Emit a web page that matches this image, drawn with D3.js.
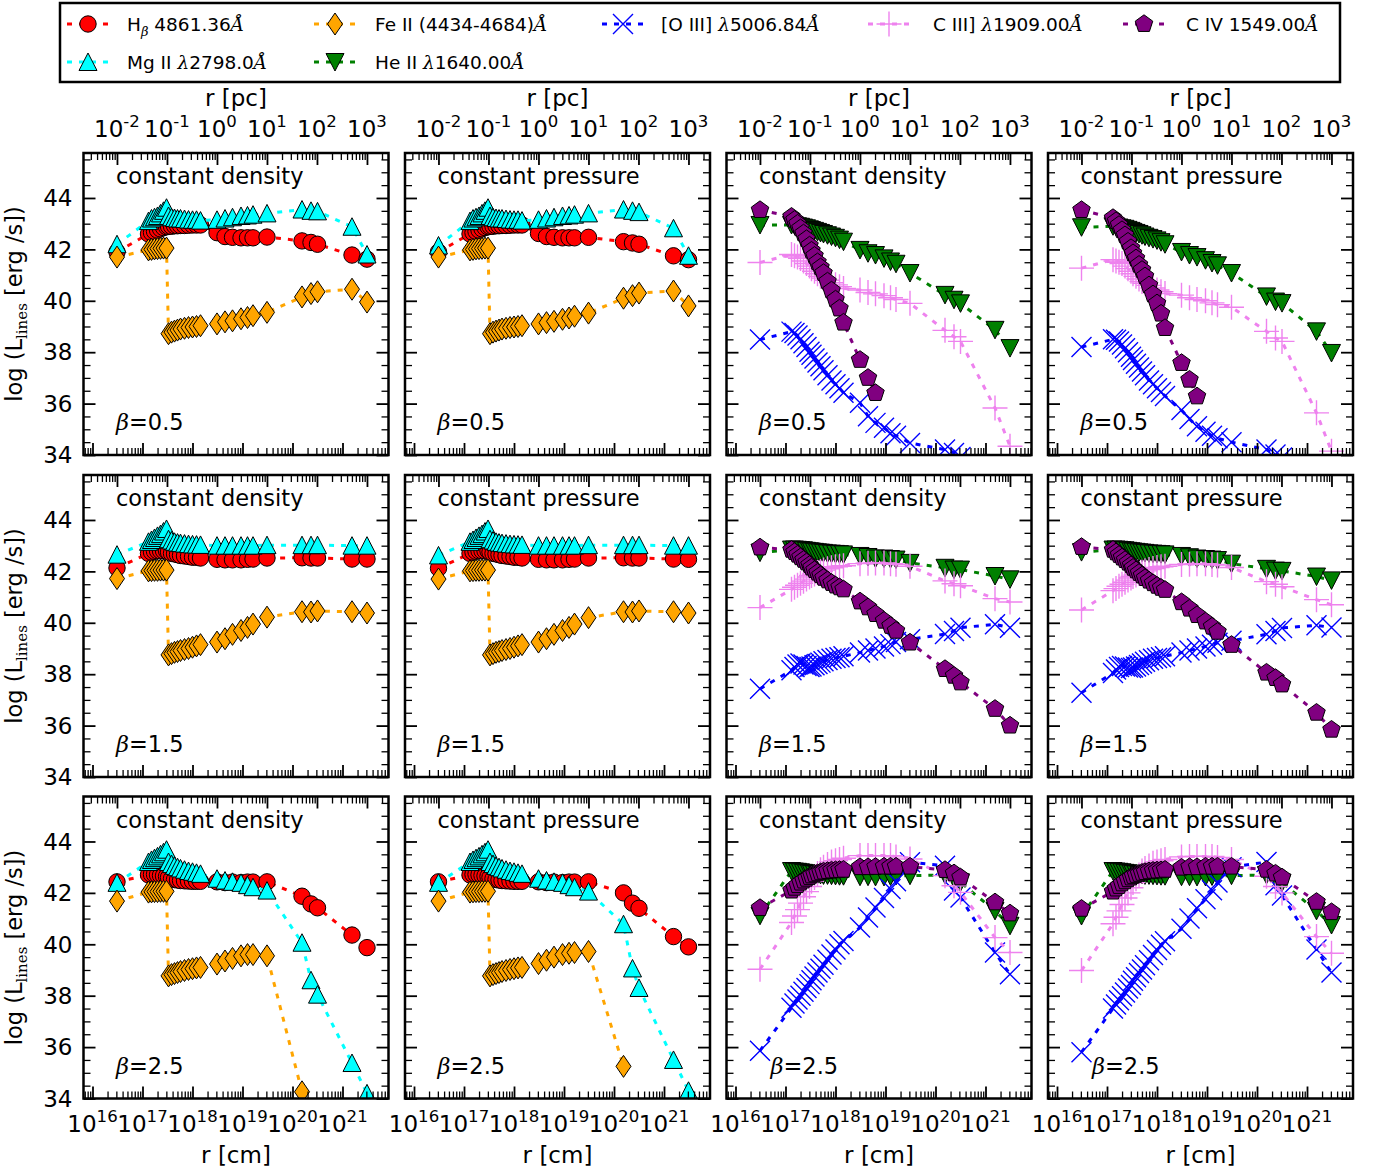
<!DOCTYPE html>
<html><head><meta charset="utf-8">
<script src="https://cdn.jsdelivr.net/npm/d3@7"></script>
<style>body{margin:0;background:#fff} text{font-family:"DejaVu Sans",sans-serif;fill:#000}</style>
</head><body><svg id="c" width="1376" height="1174"></svg>
<script>
// ---- radius grid, log10(r / cm) ----
const logR = [16.49, 17.12,17.18,17.24,17.30,17.36,17.42,17.48,17.52,17.58,17.64,17.70,17.76,17.84,17.92,18.00,18.08,18.16, 18.49,18.65,18.80,18.97,19.10,19.21,19.49, 20.19,20.37,20.50, 21.19,21.49];

// ---- tick labels ----
const cmTicks = [16,17,18,19,20,21];
const pcTicks = [-2,-1,0,1,2,3];
const yTicks = [34,36,38,40,42,44];
const betas = ["0.5","1.5","2.5"];
const titles = ["constant density","constant pressure","constant density","constant pressure"];

// ---- left panels: Hbeta, Mg II, Fe II ----
const hb_d05 = [41.9, 42.6,42.65,42.7,42.75,42.8,42.85,42.88, 42.9,42.9,42.92,42.92,42.93,42.93,42.94,42.95,42.95,42.95, 42.65,42.5,42.47,42.45,42.45,42.45,42.48, 42.33,42.27,42.2, 41.78,41.62];
const mg_d05 = [42.2, 43.1,43.2,43.25,43.3,43.4,43.5,43.62, 43.3,43.25,43.22,43.2,43.2,43.18,43.16,43.15,43.15,43.12, 43.15,43.2,43.25,43.3,43.32,43.35,43.4, 43.55,43.5,43.48, 42.88,41.8];
const fe_d05 = [41.7, 41.98,42.0,42.02,42.03,42.04,42.05,42.05, 38.72,38.78,38.82,38.86,38.9,38.93,38.96,38.98,39.0,39.03, 39.1,39.18,39.22,39.3,39.35,39.42,39.55, 40.15,40.28,40.35, 40.45,39.95];
const hb_p05 = [41.9, 42.6,42.65,42.7,42.75,42.8,42.85,42.88, 42.9,42.9,42.92,42.92,42.93,42.93,42.94,42.95,42.95,42.95, 42.62,42.5,42.47,42.45,42.45,42.45,42.47, 42.3,42.25,42.2, 41.75,41.6];
const mg_p05 = [42.15, 43.1,43.2,43.25,43.3,43.4,43.5,43.62, 43.3,43.25,43.22,43.2,43.2,43.18,43.16,43.15,43.15,43.12, 43.15,43.2,43.25,43.3,43.32,43.35,43.4, 43.55,43.5,43.45, 42.82,41.75];
const fe_p05 = [41.7, 41.98,42.0,42.02,42.03,42.04,42.05,42.05, 38.72,38.78,38.82,38.86,38.9,38.93,38.96,38.98,39.0,39.03, 39.1,39.15,39.2,39.28,39.33,39.4,39.52, 40.1,40.2,40.3, 40.38,39.8];
const hb_d15 = [42.13, 42.7,42.75,42.78,42.8,42.8,42.8,42.8, 42.75,42.7,42.68,42.65,42.62,42.6,42.58,42.55,42.55,42.52, 42.47,42.45,42.45,42.45,42.47,42.48,42.52, 42.53,42.52,42.52, 42.48,42.48];
const mg_d15 = [42.65, 43.15,43.22,43.3,43.38,43.45,43.55,43.65, 43.25,43.2,43.15,43.12,43.1,43.08,43.06,43.05,43.04,43.03, 43.0,43.0,43.0,43.0,43.0,43.0,43.02, 43.02,43.02,43.02, 43.0,43.0];
const fe_d15 = [41.72, 42.02,42.03,42.04,42.04,42.05,42.05,42.05, 38.75,38.8,38.85,38.88,38.92,38.96,39.0,39.05,39.1,39.15, 39.25,39.38,39.55,39.7,39.82,39.95,40.22, 40.43,40.42,40.46, 40.43,40.38];
const hb_p15 = [42.12, 42.7,42.75,42.78,42.8,42.8,42.8,42.8, 42.75,42.7,42.68,42.65,42.62,42.6,42.58,42.55,42.55,42.52, 42.47,42.45,42.45,42.45,42.47,42.48,42.52, 42.53,42.52,42.52, 42.48,42.47];
const mg_p15 = [42.62, 43.15,43.22,43.3,43.38,43.45,43.55,43.65, 43.25,43.2,43.15,43.12,43.1,43.08,43.06,43.05,43.04,43.03, 43.0,43.0,43.0,43.0,43.0,43.0,43.02, 43.02,43.02,43.02, 43.0,43.0];
const fe_p15 = [41.7, 42.02,42.03,42.04,42.04,42.05,42.05,42.05, 38.75,38.8,38.85,38.88,38.92,38.96,39.0,39.05,39.1,39.15, 39.25,39.38,39.55,39.7,39.82,39.95,40.2, 40.43,40.42,40.46, 40.43,40.38];
const hb_d25 = [42.43, 42.7,42.72,42.72,42.7,42.68,42.66,42.64, 42.6,42.55,42.52,42.5,42.48,42.47,42.46,42.45,42.45,42.45, 42.43,42.4,42.42,42.4,42.42,42.42,42.43, 41.87,41.57,41.42, 40.36,39.87];
const mg_d25 = [42.39, 43.2,43.28,43.35,43.42,43.5,43.58,43.68, 43.2,43.12,43.05,43.0,42.95,42.9,42.85,42.82,42.78,42.74, 42.55,42.48,42.43,42.39,42.3,42.22,42.09, 40.06,38.6,38.04, 35.38,34.2];
const fe_d25 = [41.68, 42.03,42.04,42.05,42.05,42.06,42.06,42.06, 38.77,38.82,38.86,38.9,38.94,38.98,39.02,39.05,39.08,39.1, 39.23,39.35,39.45,39.55,39.6,39.6,39.55, 34.26];
const hb_p25 = [42.43, 42.7,42.72,42.72,42.7,42.68,42.66,42.64, 42.6,42.55,42.52,42.5,42.48,42.47,42.46,42.45,42.45,42.45, 42.43,42.4,42.42,42.4,42.42,42.42,42.43, 42.0,41.6,41.4, 40.3,39.9];
const mg_p25 = [42.39, 43.2,43.28,43.35,43.42,43.5,43.58,43.68, 43.2,43.12,43.05,43.0,42.95,42.9,42.85,42.82,42.78,42.74, 42.55,42.48,42.43,42.39,42.3,42.22,42.05, 40.78,39.06,38.3, 35.5,34.3];
const fe_p25 = [41.68, 42.03,42.04,42.05,42.05,42.06,42.06,42.06, 38.77,38.82,38.86,38.9,38.94,38.98,39.02,39.05,39.08,39.1, 39.25,39.38,39.5,39.6,39.65,39.68,39.72, 35.25];

// ---- right panels: He II, [O III], C III], C IV ----
const he_d05 = [42.95, 42.95,42.93,42.9,42.88,42.85,42.82,42.78,42.75,42.72,42.68,42.64,42.6,42.55,42.5,42.45,42.38,42.3, 41.98,41.85,41.78,41.65,41.53,41.44,41.08, 40.23,40.04,39.9, 38.87,38.16];
const o3_d05 = [38.49, 38.8,38.75,38.65,38.5,38.35,38.2,38.02,37.9,37.75,37.6,37.45,37.3,37.1,36.9,36.75,36.6,36.42, 36.03,35.51,35.25,35.06,34.85,34.75,34.47, 34.21,34.08,33.92];
const c3_d05 = [41.49, 41.8,41.75,41.7,41.65,41.55,41.45,41.35,41.25,41.15,41.05,40.95,40.88,40.8,40.7,40.62,40.55,40.48, 40.42,40.32,40.27,40.2,40.12,40.05,39.9, 38.85,38.6,38.42, 35.83,34.34];
const c4_d05 = [43.53, 43.27,43.15,43.0,42.82,42.62,42.4,42.15,41.95,41.75,41.5,41.3,41.08,40.75,40.4,40.05,39.7,39.15, 37.7,37.0,36.41];
const he_p05 = [42.86, 42.9,42.88,42.85,42.82,42.8,42.76,42.72,42.68,42.64,42.6,42.55,42.5,42.45,42.4,42.35,42.28,42.2, 41.9,41.78,41.7,41.58,41.47,41.38,41.08, 40.17,39.97,39.91, 38.81,37.97];
const o3_p05 = [38.2, 38.5,38.48,38.42,38.3,38.15,38.0,37.82,37.7,37.55,37.4,37.25,37.1,36.9,36.75,36.6,36.45,36.3, 35.75,35.4,35.12,34.9,34.75,34.65,34.5, 34.21,34.02,33.9];
const c3_p05 = [41.27, 41.6,41.55,41.5,41.45,41.35,41.25,41.15,41.05,40.95,40.85,40.75,40.68,40.6,40.5,40.42,40.35,40.28, 40.22,40.12,40.05,40.0,39.92,39.85,39.75, 38.81,38.55,38.42, 35.64,34.15];
const c4_p05 = [43.53, 43.22,43.1,42.95,42.75,42.55,42.3,42.05,41.85,41.65,41.4,41.2,40.95,40.6,40.25,39.9,39.5,38.94, 37.58,36.93,36.28];
const he_d15 = [42.73, 42.85,42.85,42.84,42.83,42.82,42.8,42.78,42.77,42.76,42.74,42.73,42.72,42.7,42.69,42.68,42.67,42.66, 42.6,42.56,42.5,42.5,42.48,42.46,42.33, 42.14,42.07,42.07, 41.82,41.69];
const o3_d15 = [37.43, 38.15,38.28,38.38,38.42,38.38,38.32,38.28,38.3,38.35,38.4,38.45,38.5,38.55,38.6,38.63,38.66,38.7, 38.84,38.92,39.0,39.08,39.17,39.25,39.36, 39.56,39.68,39.81, 39.94,39.81];
const c3_d15 = [40.59, 41.3,41.38,41.46,41.54,41.62,41.7,41.78,41.84,41.9,41.96,42.0,42.05,42.1,42.14,42.18,42.2,42.22, 42.3,42.32,42.33,42.33,42.3,42.28,42.2, 41.63,41.52,41.44, 40.94,40.81];
const c4_d15 = [42.93, 42.84,42.75,42.65,42.55,42.45,42.35,42.25,42.15,42.05,41.95,41.85,41.75,41.65,41.55,41.45,41.38,41.3, 40.83,40.6,40.34,40.08,39.88,39.69,39.23, 38.2,37.94,37.68, 36.65,36.0];
const he_p15 = [42.75, 42.85,42.85,42.84,42.83,42.82,42.8,42.78,42.77,42.76,42.74,42.73,42.72,42.7,42.69,42.68,42.67,42.66, 42.6,42.55,42.5,42.48,42.46,42.44,42.3, 42.1,42.03,42.02, 41.8,41.65];
const o3_p15 = [37.28, 38.05,38.18,38.28,38.32,38.3,38.26,38.24,38.26,38.3,38.36,38.42,38.48,38.54,38.6,38.63,38.66,38.7, 38.84,38.92,39.0,39.08,39.15,39.22,39.3, 39.55,39.68,39.8, 39.9,39.82];
const c3_p15 = [40.5, 41.25,41.33,41.42,41.5,41.58,41.66,41.74,41.8,41.86,41.92,41.97,42.02,42.07,42.11,42.15,42.18,42.2, 42.27,42.28,42.3,42.3,42.27,42.25,42.15, 41.6,41.5,41.4, 40.9,40.7];
const c4_p15 = [42.95, 42.84,42.74,42.64,42.54,42.44,42.34,42.24,42.14,42.04,41.94,41.84,41.74,41.64,41.54,41.44,41.36,41.28, 40.8,40.55,40.3,40.05,39.85,39.65,39.14, 38.06,37.85,37.6, 36.5,35.84];
const he_d25 = [41.11, 42.85,42.83,42.82,42.8,42.78,42.76,42.75,42.73,42.72,42.7,42.7,42.68,42.68,42.67,42.66,42.65,42.65, 42.63,42.63,42.62,42.62,42.64,42.66,42.67, 42.7,42.55,42.41, 41.3,40.72];
const o3_d25 = [35.86, 37.53,37.7,37.85,38.0,38.15,38.3,38.45,38.6,38.75,38.9,39.05,39.2,39.4,39.6,39.8,40.0,40.13, 40.65,41.04,41.43,41.8,42.15,42.45,43.19, 43.06,42.09,41.82, 39.68,38.83];
const c3_d25 = [39.03, 40.85,41.1,41.35,41.6,41.85,42.05,42.25,42.45,42.6,42.75,42.9,43.0,43.1,43.2,43.25,43.3,43.35, 43.45,43.45,43.45,43.45,43.45,43.4,43.32, 42.67,42.28,42.02, 40.26,39.68];
const c4_d25 = [41.41, 42.09,42.2,42.3,42.4,42.48,42.55,42.62,42.68,42.72,42.76,42.8,42.83,42.85,42.87,42.88,42.89,42.9, 43.0,43.0,43.01,43.02,43.02,43.02,43.02, 42.89,42.76,42.6, 41.63,41.2];
const he_p25 = [41.1, 42.85,42.83,42.82,42.8,42.78,42.76,42.75,42.73,42.72,42.7,42.7,42.68,42.68,42.67,42.66,42.65,42.65, 42.63,42.63,42.62,42.62,42.64,42.66,42.67, 42.7,42.55,42.4, 41.3,40.75];
const o3_p25 = [35.8, 37.5,37.66,37.82,37.98,38.12,38.28,38.42,38.58,38.72,38.88,39.02,39.18,39.38,39.58,39.78,39.98,40.12, 40.6,41.0,41.4,41.75,42.1,42.4,43.0, 43.2,42.3,41.9, 39.8,38.9];
const c3_p25 = [38.98, 40.8,41.05,41.3,41.55,41.8,42.0,42.2,42.4,42.55,42.7,42.85,42.95,43.05,43.15,43.2,43.25,43.3, 43.4,43.42,43.42,43.42,43.42,43.38,43.3, 42.65,42.25,42.0, 40.3,39.65];
const c4_p25 = [41.38, 42.05,42.17,42.27,42.37,42.45,42.53,42.6,42.66,42.7,42.74,42.78,42.81,42.84,42.86,42.87,42.88,42.9, 42.98,43.0,43.0,43.02,43.02,43.02,43.02, 42.9,42.75,42.6, 41.65,41.25];

// ---- series styles ----
const leftStyle = [
  {color:"#ff0000", m:"circle"},
  {color:"#00ffff", m:"tup"},
  {color:"#ffa500", m:"diamond"}];
const rightStyle = [
  {color:"#008000", m:"tdown"},
  {color:"#0000ff", m:"x"},
  {color:"#ee82ee", m:"plus"},
  {color:"#800080", m:"pent"}];

const panelData = [
  [[hb_d05,mg_d05,fe_d05],[hb_p05,mg_p05,fe_p05],[he_d05,o3_d05,c3_d05,c4_d05],[he_p05,o3_p05,c3_p05,c4_p05]],
  [[hb_d15,mg_d15,fe_d15],[hb_p15,mg_p15,fe_p15],[he_d15,o3_d15,c3_d15,c4_d15],[he_p15,o3_p15,c3_p15,c4_p15]],
  [[hb_d25,mg_d25,fe_d25],[hb_p25,mg_p25,fe_p25],[he_d25,o3_d25,c3_d25,c4_d25],[he_p25,o3_p25,c3_p25,c4_p25]]];

// ---- layout ----
const svg = d3.select("#c");
const pw = 305, ph = 302;
const lefts = [83.5, 405, 726.5, 1048], tops = [153, 475, 796.5];
const PC = 3.0857e18;
const xDom = [Math.pow(10,15.82), Math.pow(10,21.92)];
const x = d3.scaleLog().domain(xDom).range([0, pw]);
const xpc = d3.scaleLog().domain(xDom.map(v => v/PC)).range([0, pw]);
const y = d3.scaleLinear().domain([34, 45.75]).range([ph, 0]);

function minorLog(scale, lo, hi) {
  const out = [];
  const [a, b] = scale.domain();
  for (let n = lo; n <= hi; n++) for (let k = 2; k <= 9; k++) {
    const v = k * Math.pow(10, n);
    if (v > a && v < b) out.push(v);
  }
  return out;
}
const cmMajor = cmTicks.map(e => Math.pow(10, e));
const cmMinor = minorLog(x, 15, 21);
const pcMajor = pcTicks.map(e => Math.pow(10, e));
const pcMinor = minorLog(xpc, -3, 3);
const yMajor = yTicks;
const yMinor = d3.range(34, 45.76, 0.5).filter(v => v % 2 !== 0);

function markerPath(m) {
  switch (m) {
    case "circle": return "M8.2,0A8.2,8.2 0 1 1 -8.2,0A8.2,8.2 0 1 1 8.2,0Z";
    case "tup": return "M0,-9L9,8.5L-9,8.5Z";
    case "tdown": return "M0,9L9,-8.5L-9,-8.5Z";
    case "diamond": return "M0,-11L7.5,0L0,11L-7.5,0Z";
    case "pent": {
      const r = 9.2; let s = "";
      for (let k = 0; k < 5; k++) { const a = -Math.PI/2 + k*2*Math.PI/5; s += (k ? "L" : "M") + (r*Math.cos(a)).toFixed(2) + "," + (r*Math.sin(a)).toFixed(2); }
      return s + "Z";
    }
    case "x": return "M-10,-10L10,10M-10,10L10,-10";
    case "plus": return "M-12.5,0L12.5,0M0,-12.5L0,12.5";
  }
}
function drawMarker(g, m, color, px, py) {
  const p = g.append("path").attr("d", markerPath(m)).attr("transform", `translate(${px},${py})`);
  if (m === "x" || m === "plus") p.attr("fill", "none").attr("stroke", color).attr("stroke-width", 1.4);
  else p.attr("fill", color).attr("stroke", "#000").attr("stroke-width", 1);
}
const DASH = "5,7";

const line = d3.line().x(d => x(Math.pow(10, d.r))).y(d => y(d.v));

svg.append("defs").append("clipPath").attr("id", "pclip")
  .append("rect").attr("x", 0).attr("y", 0).attr("width", pw).attr("height", ph);

function supLabel(g, px, py, base, sup, fs) {
  const t = g.append("text").attr("x", px).attr("y", py).attr("text-anchor", "middle").attr("font-size", fs);
  t.append("tspan").text(base);
  t.append("tspan").attr("font-size", fs*0.72).attr("dy", -fs*0.42).text(sup);
}

for (let r = 0; r < 3; r++) for (let c = 0; c < 4; c++) {
  const g = svg.append("g").attr("transform", `translate(${lefts[c]},${tops[r]})`);
  const styles = c < 2 ? leftStyle : rightStyle;
  const plot = g.append("g").attr("clip-path", "url(#pclip)");
  panelData[r][c].forEach((arr, i) => {
    const st = styles[i];
    const pts = arr.map((v, j) => ({r: logR[j], v: v}));
    const sg = plot.append("g");
    sg.append("path").attr("d", line(pts)).attr("fill", "none").attr("stroke", st.color)
      .attr("stroke-width", 3).attr("stroke-dasharray", DASH);
    pts.forEach(p => drawMarker(sg, st.m, st.color, x(Math.pow(10, p.r)), y(p.v)));
  });

  // ticks (inward)
  const tickStyle = (sel, w) => { sel.select(".domain").remove(); sel.selectAll("line").attr("stroke", "#000").attr("stroke-width", w); sel.selectAll("text").remove(); };
  g.append("g").attr("transform", `translate(0,${ph})`).call(d3.axisBottom(x).tickValues(cmMajor).tickSize(-12).tickFormat("")).call(s => tickStyle(s, 1.8));
  g.append("g").attr("transform", `translate(0,${ph})`).call(d3.axisBottom(x).tickValues(cmMinor).tickSize(-7).tickFormat("")).call(s => tickStyle(s, 1.3));
  g.append("g").call(d3.axisTop(xpc).tickValues(pcMajor).tickSize(-12).tickFormat("")).call(s => tickStyle(s, 1.8));
  g.append("g").call(d3.axisTop(xpc).tickValues(pcMinor).tickSize(-7).tickFormat("")).call(s => tickStyle(s, 1.3));
  g.append("g").call(d3.axisLeft(y).tickValues(yMajor).tickSize(-12).tickFormat("")).call(s => tickStyle(s, 1.8));
  g.append("g").call(d3.axisLeft(y).tickValues(yMinor).tickSize(-7).tickFormat("")).call(s => tickStyle(s, 1.3));
  g.append("g").attr("transform", `translate(${pw},0)`).call(d3.axisRight(y).tickValues(yMajor).tickSize(-12).tickFormat("")).call(s => tickStyle(s, 1.8));
  g.append("g").attr("transform", `translate(${pw},0)`).call(d3.axisRight(y).tickValues(yMinor).tickSize(-7).tickFormat("")).call(s => tickStyle(s, 1.3));

  g.append("rect").attr("width", pw).attr("height", ph).attr("fill", "none").attr("stroke", "#000").attr("stroke-width", 2.5);

  // panel texts
  g.append("text").attr("x", 32.5).attr("y", 31).attr("font-size", 22.5).text(titles[c]);
  const bx = (r === 2 && c >= 2) ? 44 : 32.5;
  const bt = g.append("text").attr("x", bx).attr("y", ph - 25).attr("font-size", 22.5);
  bt.append("tspan").attr("font-family", "DejaVu Serif").attr("font-style", "italic").text("β");
  bt.append("tspan").text("=" + betas[r]);

  // labels
  if (c === 0) {
    yMajor.forEach(v => g.append("text").attr("x", -11).attr("y", y(v)).attr("dy", "0.36em")
      .attr("text-anchor", "end").attr("font-size", 23).text(v));
    const yl = g.append("text").attr("transform", `translate(${-62},${ph/2}) rotate(-90)`)
      .attr("text-anchor", "middle").attr("font-size", 22.5);
    yl.append("tspan").text("log (L");
    yl.append("tspan").attr("font-size", 15).attr("font-family", "DejaVu Serif").attr("dy", 5).text("lines");
    yl.append("tspan").attr("dy", -5).text(" [erg /s])");
  }
  if (r === 0) {
    pcTicks.forEach(e => supLabel(g, xpc(Math.pow(10, e)), -16, "10", String(e), 23));
    g.append("text").attr("x", pw/2).attr("y", -47).attr("text-anchor", "middle").attr("font-size", 23).text("r [pc]");
  }
  if (r === 2) {
    cmTicks.forEach(e => supLabel(g, x(Math.pow(10, e)), ph + 33, "10", String(e), 23));
    g.append("text").attr("x", pw/2).attr("y", ph + 64).attr("text-anchor", "middle").attr("font-size", 23).text("r [cm]");
  }
}

// ---- legend ----
const lg = svg.append("g");
lg.append("rect").attr("x", 60).attr("y", 3).attr("width", 1280).attr("height", 79)
  .attr("fill", "#fff").attr("stroke", "#000").attr("stroke-width", 2.5);
const legendItems = [
  {st: leftStyle[0], col: 0, row: 0, parts: [["H"], ["β", "sub"], [" 4861.36"], ["Å", "it"]]},
  {st: leftStyle[1], col: 0, row: 1, parts: [["Mg II "], ["λ", "it"], ["2798.0"], ["Å", "it"]]},
  {st: leftStyle[2], col: 1, row: 0, parts: [["Fe II (4434-4684)"], ["Å", "it"]]},
  {st: rightStyle[0], col: 1, row: 1, parts: [["He II "], ["λ", "it"], ["1640.00"], ["Å", "it"]]},
  {st: rightStyle[1], col: 2, row: 0, parts: [["[O III] "], ["λ", "it"], ["5006.84"], ["Å", "it"]]},
  {st: rightStyle[2], col: 3, row: 0, parts: [["C III] "], ["λ", "it"], ["1909.00"], ["Å", "it"]]},
  {st: rightStyle[3], col: 4, row: 0, parts: [["C IV 1549.00"], ["Å", "it"]]}];
const lmx = [88, 335, 623, 889, 1144], ltx = [127, 375, 661, 933, 1186], lry = [24, 62];
legendItems.forEach(it => {
  const mx = lmx[it.col], yy = lry[it.row];
  lg.append("line").attr("x1", mx - 21).attr("x2", mx + 21).attr("y1", yy).attr("y2", yy)
    .attr("stroke", it.st.color).attr("stroke-width", 3).attr("stroke-dasharray", DASH);
  drawMarker(lg, it.st.m, it.st.color, mx, yy);
  const t = lg.append("text").attr("x", ltx[it.col]).attr("y", yy + 7).attr("font-size", 18.5);
  let shifted = false;
  it.parts.forEach(p => {
    const ts = t.append("tspan").text(p[0]);
    if (p[1] === "sub") { ts.attr("font-size", 13).attr("font-family", "DejaVu Serif").attr("font-style", "italic").attr("dy", 5); shifted = true; }
    else {
      if (shifted) { ts.attr("dy", -5); shifted = false; }
      if (p[1] === "it") ts.attr("font-family", "DejaVu Serif").attr("font-style", "italic");
    }
  });
});
</script></body></html>
